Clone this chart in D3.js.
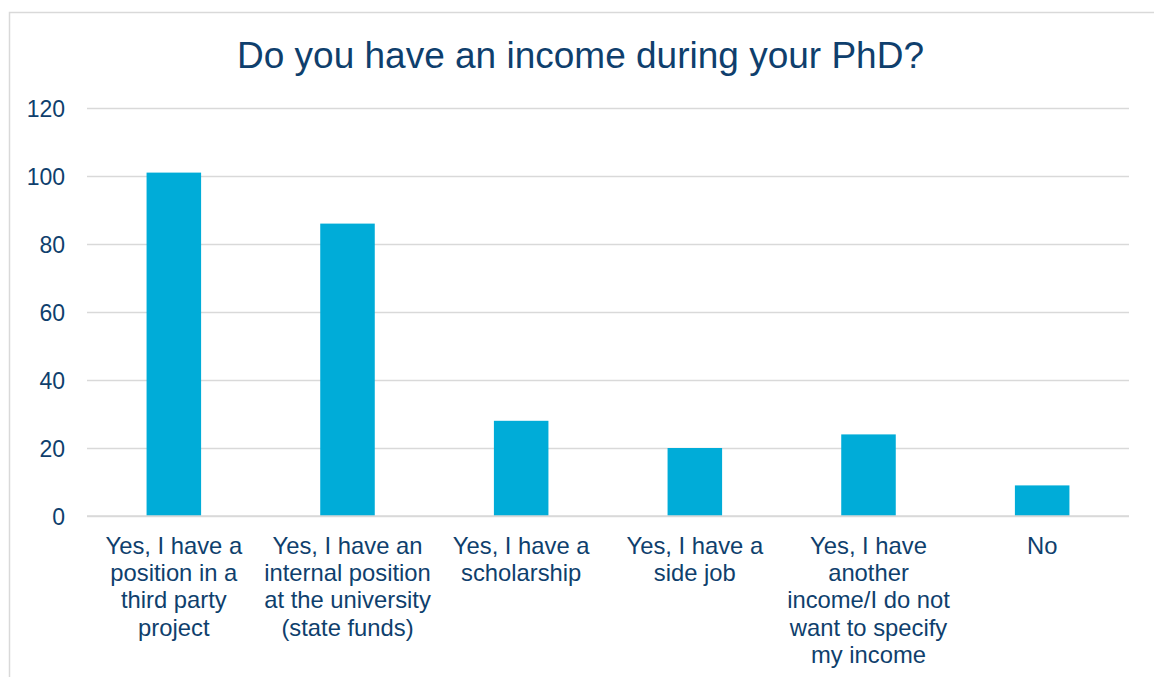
<!DOCTYPE html>
<html>
<head>
<meta charset="utf-8">
<script src="https://cdn.jsdelivr.net/npm/d3@7"></script>
<style>
  html, body { margin: 0; padding: 0; background: #fff; }
  svg { display: block; font-family: "Liberation Sans", Arial, sans-serif; }
</style>
</head>
<body>
<svg id="chart" width="1154" height="677"></svg>
<script>
// Survey answers (line breaks mark where each axis label wraps)
const categories = [
  "Yes, I have a\nposition in a\nthird party\nproject",
  "Yes, I have an\ninternal position\nat the university\n(state funds)",
  "Yes, I have a\nscholarship",
  "Yes, I have a\nside job",
  "Yes, I have\nanother\nincome/I do not\nwant to specify\nmy income",
  "No"
];
const counts = [101, 86, 28, 20, 24, 9];
const yTicks = [0, 20, 40, 60, 80, 100, 120];
const title = "Do you have an income during your PhD?";

const textColor = "#0F3F6D";
const barColor = "#00ACD8";
const gridColor = "#D9D9D9";

const svg = d3.select("#chart");
const plot = { left: 87, right: 1129, top: 108, bottom: 516 };

// outer frame
svg.append("rect")
  .attr("x", 9.5).attr("y", 12.5)
  .attr("width", 1200).attr("height", 700)
  .attr("fill", "none").attr("stroke", gridColor).attr("stroke-width", 1.5);

svg.append("text")
  .attr("x", 580.5).attr("y", 68)
  .attr("text-anchor", "middle")
  .attr("font-size", 37)
  .attr("fill", textColor)
  .text(title);

const x = d3.scaleBand()
  .domain(categories)
  .range([plot.left, plot.right])
  .paddingInner(0.686)
  .paddingOuter(0.343);

const y = d3.scaleLinear()
  .domain([0, 120])
  .range([plot.bottom, plot.top]);

// horizontal gridlines + value labels
const yAxis = d3.axisLeft(y)
  .tickValues(yTicks)
  .tickSize(-(plot.right - plot.left))
  .tickPadding(22);

const gy = svg.append("g")
  .attr("transform", `translate(${plot.left},0)`)
  .call(yAxis);
gy.select(".domain").remove();
gy.selectAll(".tick line").attr("stroke", gridColor).attr("stroke-width", 1.5);
gy.selectAll(".tick text")
  .attr("font-size", 23)
  .attr("font-family", "Liberation Sans, Arial, sans-serif")
  .attr("fill", textColor)
  .attr("dy", "0.36em");

svg.append("g").selectAll("rect")
  .data(counts)
  .join("rect")
  .attr("x", (d, i) => x(categories[i]))
  .attr("width", x.bandwidth())
  .attr("y", d => y(d))
  .attr("height", d => y(0) - y(d))
  .attr("fill", barColor);

// redraw the baseline over the bars
svg.append("line")
  .attr("x1", plot.left).attr("x2", plot.right)
  .attr("y1", y(0)).attr("y2", y(0))
  .attr("stroke", gridColor).attr("stroke-width", 1.5);

// category labels
const xAxis = d3.axisBottom(x).tickSize(0).tickFormat("");
const gx = svg.append("g")
  .attr("transform", `translate(0,${plot.bottom})`)
  .call(xAxis);
gx.select(".domain").remove();

const lineHeight = 27.4;
gx.selectAll(".tick").each(function(d) {
  const t = d3.select(this).select("text")
    .attr("font-size", 23.8)
    .attr("font-family", "Liberation Sans, Arial, sans-serif")
    .attr("fill", textColor)
    .attr("text-anchor", "middle")
    .attr("y", 37.5)
    .attr("dy", null);
  d.split("\n").forEach((line, i) => {
    t.append("tspan")
      .attr("x", 0)
      .attr("dy", i === 0 ? 0 : lineHeight)
      .text(line);
  });
});
</script>
</body>
</html>
